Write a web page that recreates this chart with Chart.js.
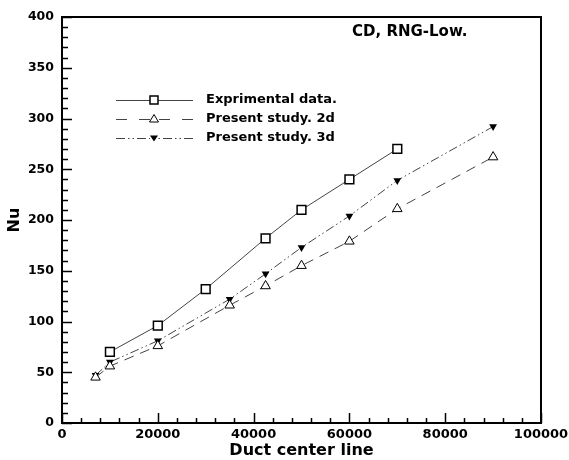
<!DOCTYPE html>
<html>
<head>
<meta charset="utf-8">
<script src="https://cdn.jsdelivr.net/npm/chart.js@4/dist/chart.umd.min.js"></script>
<style>
  html, body { margin: 0; padding: 0; background: #fff; }
  #wrap { width: 569px; height: 460px; }
</style>
</head>
<body>
<div id="wrap"><canvas id="nuChart"></canvas></div>
<script>
// Nusselt number along the duct centre line
const expX = [10000, 20000, 30000, 42500, 50000, 60000, 70000];
const expNu = [70, 96, 132, 182, 210, 240, 270];
const simX = [7000, 10000, 20000, 35000, 42500, 50000, 60000, 70000, 90000];
const nu2d = [45, 56, 76, 116, 135, 155, 179, 211, 262];
const nu3d = [47, 60, 81, 122, 147, 173, 204, 239, 292];
const seriesNames = ['Exprimental data.', 'Present study. 2d', 'Present study. 3d'];
const xTicks = [0, 20000, 40000, 60000, 80000, 100000];
const yTicks = [0, 50, 100, 150, 200, 250, 300, 350, 400];

const FONT = '"DejaVu Sans", Verdana, sans-serif';
const LINE = '#444';
const DASH_2D = [10, 7];
const DASH_3D = [9, 3, 1.5, 3, 1.5, 3];

function pts(xs, ys) {
    return xs.map((x, i) => ({ x: x, y: ys[i] }));
}

// little marker drawer, used for the legend samples
function drawMarker(ctx, style, x, y) {
    ctx.save();
    ctx.setLineDash([]);
    ctx.strokeStyle = '#000';
    ctx.lineWidth = 1.5;
    ctx.beginPath();
    if (style === 'square') {
        ctx.rect(x - 4, y - 4, 8, 8);
        ctx.fillStyle = '#fff';
        ctx.fill();
        ctx.stroke();
    } else if (style === 'up') {
        ctx.lineWidth = 1;
        ctx.moveTo(x, y - 4.5);
        ctx.lineTo(x + 4.5, y + 3);
        ctx.lineTo(x - 4.5, y + 3);
        ctx.closePath();
        ctx.fillStyle = '#fff';
        ctx.fill();
        ctx.stroke();
    } else {
        ctx.moveTo(x - 4, y - 2.5);
        ctx.lineTo(x + 4, y - 2.5);
        ctx.lineTo(x, y + 3.5);
        ctx.closePath();
        ctx.fillStyle = '#000';
        ctx.fill();
    }
    ctx.restore();
}

// half of a legend sample line, dashed outward from the line end
function sampleLine(ctx, x0, x1, y, dash) {
    ctx.save();
    ctx.strokeStyle = LINE;
    ctx.lineWidth = 1;
    ctx.setLineDash(dash || []);
    ctx.beginPath();
    ctx.moveTo(x0, y + 0.5);
    ctx.lineTo(x1, y + 0.5);
    ctx.stroke();
    ctx.restore();
}

// frame, inward ticks, legend box and case label
const framePlugin = {
    id: 'framePlugin',
    afterDraw(chart) {
        const ctx = chart.ctx;
        const a = chart.chartArea;
        const x = chart.scales.x;
        const y = chart.scales.y;
        ctx.save();
        ctx.strokeStyle = '#000';
        ctx.lineWidth = 2;
        ctx.strokeRect(a.left, a.top, a.right - a.left, a.bottom - a.top);

        ctx.lineWidth = 1.5;
        ctx.beginPath();
        for (let v = x.min; v <= x.max; v += 4000) {
            const px = Math.round(x.getPixelForValue(v)) + 0.5;
            const len = v % 20000 === 0 ? 10 : 5;
            ctx.moveTo(px, a.bottom);
            ctx.lineTo(px, a.bottom - len);
        }
        for (let v = y.min; v <= y.max; v += 10) {
            const py = Math.round(y.getPixelForValue(v)) + 0.5;
            const len = v % 50 === 0 ? 10 : 6;
            ctx.moveTo(a.left, py);
            ctx.lineTo(a.left + len, py);
        }
        ctx.stroke();

        // legend
        const styles = ['square', 'up', 'down'];
        chart.data.datasets.forEach((ds, i) => {
            const ly = 100 + i * 19;
            const dash = i === 1 ? [11, 12] : ds.borderDash;
            sampleLine(ctx, 116, 150, ly, dash);
            sampleLine(ctx, 193, 158, ly, dash);
            drawMarker(ctx, styles[i], 154, ly);
            ctx.fillStyle = '#000';
            ctx.font = 'bold 13px ' + FONT;
            ctx.textBaseline = 'middle';
            ctx.fillText(ds.label, 206, ly);
        });

        ctx.font = 'bold 15px ' + FONT;
        ctx.textBaseline = 'middle';
        ctx.fillText('CD, RNG-Low.', 352, 32);
        ctx.restore();
    }
};

const common = {
    showLine: true,
    borderColor: LINE,
    borderWidth: 1,
    pointBorderColor: '#000',
    pointBorderWidth: 1.5
};

new Chart(document.getElementById('nuChart'), {
    type: 'scatter',
    data: {
        datasets: [
            Object.assign({}, common, {
                label: seriesNames[0],
                data: pts(expX, expNu),
                pointStyle: 'rect',
                pointRadius: 6.2,
                pointBackgroundColor: '#fff'
            }),
            Object.assign({}, common, {
                label: seriesNames[1],
                data: pts(simX, nu2d),
                borderDash: DASH_2D,
                pointStyle: 'triangle',
                pointRadius: 5.5,
                pointBorderWidth: 1,
                pointBackgroundColor: '#fff'
            }),
            Object.assign({}, common, {
                label: seriesNames[2],
                data: pts(simX, nu3d),
                borderDash: DASH_3D,
                pointStyle: 'triangle',
                rotation: 180,
                pointRadius: 4.5,
                pointBorderWidth: 0,
                pointBackgroundColor: '#000'
            })
        ]
    },
    options: {
        responsive: true,
        maintainAspectRatio: false,
        animation: false,
        layout: { padding: { top: 17, right: 28, left: 0, bottom: 0 } },
        plugins: {
            legend: { display: false },
            tooltip: { enabled: false }
        },
        scales: {
            x: {
                type: 'linear',
                min: 0,
                max: 100000,
                // last label may run off the right edge, keep the plot width fixed
                afterFit: s => { s.height = 37; s.paddingRight = 0; s.paddingLeft = 0; },
                afterBuildTicks: s => { s.ticks = xTicks.map(v => ({ value: v })); },
                grid: { display: false, drawTicks: false },
                border: { display: false },
                ticks: {
                    padding: 4,
                    color: '#000',
                    maxRotation: 0,
                    font: { family: FONT, size: 13, weight: 'bold' },
                    callback: v => String(v)
                },
                title: {
                    display: true,
                    text: 'Duct center line',
                    color: '#000',
                    padding: 0,
                    font: { family: FONT, size: 16, weight: 'bold' }
                }
            },
            y: {
                min: 0,
                max: 400,
                afterFit: s => { s.width = 62; },
                afterBuildTicks: s => { s.ticks = yTicks.map(v => ({ value: v })); },
                grid: { display: false, drawTicks: false },
                border: { display: false },
                ticks: {
                    padding: 8,
                    color: '#000',
                    font: { family: FONT, size: 12.5, weight: 'bold' }
                },
                title: {
                    display: true,
                    text: 'Nu',
                    color: '#000',
                    padding: { top: 5, bottom: 0 },
                    font: { family: FONT, size: 16, weight: 'bold' }
                }
            }
        }
    },
    plugins: [framePlugin]
});
</script>
</body>
</html>
